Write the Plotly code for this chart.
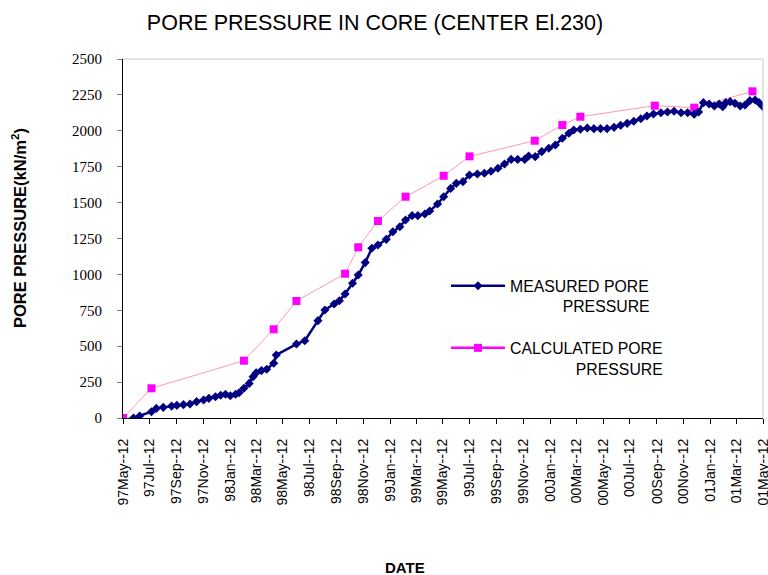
import plotly.graph_objects as go

# ---- data ----
calc_dates = ["1997-05-12", "1997-07-16", "1998-02-12", "1998-04-21", "1998-06-12",
              "1998-10-01", "1998-10-31", "1998-12-15", "1999-02-16", "1999-05-14",
              "1999-07-12", "1999-12-08", "2000-02-09", "2000-03-21", "2000-09-07",
              "2000-12-06", "2001-04-18"]
calc_vals = [0, 207, 399, 618, 815, 1005, 1189, 1372, 1541, 1687, 1822, 1931, 2040,
             2098, 2175, 2161, 2275]

meas_dates = ["1997-06-05", "1997-06-19", "1997-07-16", "1997-07-27", "1997-08-12",
              "1997-08-31", "1997-09-12", "1997-09-27", "1997-10-12", "1997-10-27",
              "1997-11-12", "1997-11-24", "1997-12-09", "1997-12-21", "1998-01-01",
              "1998-01-12", "1998-01-24", "1998-02-01", "1998-02-12", "1998-02-24",
              "1998-03-05", "1998-03-12", "1998-03-24", "1998-04-05", "1998-04-21",
              "1998-04-27", "1998-06-12", "1998-07-01", "1998-07-31", "1998-08-16",
              "1998-09-06", "1998-09-18", "1998-10-01", "1998-10-18", "1998-10-31",
              "1998-11-16", "1998-12-01", "1998-12-15", "1999-01-03", "1999-01-18",
              "1999-02-03", "1999-02-16", "1999-03-03", "1999-03-16", "1999-04-01",
              "1999-04-12", "1999-04-30", "1999-05-14", "1999-05-30", "1999-06-12",
              "1999-06-27", "1999-07-12", "1999-07-30", "1999-08-15", "1999-08-30",
              "1999-09-15", "1999-09-30", "1999-10-15", "1999-10-30", "1999-11-15",
              "1999-11-24", "1999-12-09", "1999-12-24", "2000-01-09", "2000-01-24",
              "2000-02-09", "2000-02-24", "2000-03-06", "2000-03-21", "2000-04-06",
              "2000-04-21", "2000-05-06", "2000-05-21", "2000-06-06", "2000-06-21",
              "2000-07-06", "2000-07-21", "2000-08-06", "2000-08-20", "2000-09-04",
              "2000-09-21", "2000-10-06", "2000-10-21", "2000-11-06", "2000-11-21",
              "2000-12-06", "2000-12-16", "2000-12-27", "2001-01-09", "2001-01-21",
              "2001-02-01", "2001-02-09", "2001-02-16", "2001-02-26", "2001-03-09",
              "2001-03-21", "2001-04-01", "2001-04-12", "2001-04-24", "2001-05-03",
              "2001-05-12"]
meas_vals = [0, 14, 44, 67, 74, 83, 88, 93, 97, 114,
             125, 137, 148, 158, 165, 155, 165, 176, 207, 241,
             288, 315, 330, 339, 381, 439, 515, 538, 678, 752,
             794, 817, 864, 938, 996, 1082, 1182, 1205, 1244, 1297,
             1332, 1379, 1409, 1409, 1421, 1441, 1490, 1541, 1599, 1634,
             1646, 1692, 1699, 1704, 1718, 1739, 1769, 1801, 1801, 1801,
             1825, 1820, 1855, 1878, 1901, 1948, 1983, 2006, 2011, 2019,
             2015, 2015, 2015, 2024, 2038, 2052, 2066, 2084, 2103, 2117,
             2126, 2131, 2136, 2126, 2126, 2115, 2131, 2196, 2187, 2173,
             2187, 2168, 2196, 2203, 2191, 2173, 2180, 2210, 2214, 2196,
             2168]

tick_dates = ["1997-05-12", "1997-07-12", "1997-09-12", "1997-11-12", "1998-01-12",
              "1998-03-12", "1998-05-12", "1998-07-12", "1998-09-12", "1998-11-12",
              "1999-01-12", "1999-03-12", "1999-05-12", "1999-07-12", "1999-09-12",
              "1999-11-12", "2000-01-12", "2000-03-12", "2000-05-12", "2000-07-12",
              "2000-09-12", "2000-11-12", "2001-01-12", "2001-03-12", "2001-05-12"]
tick_labels = ["97May--12", "97Jul--12", "97Sep--12", "97Nov--12", "98Jan--12",
               "98Mar--12", "98May--12", "98Jul--12", "98Sep--12", "98Nov--12",
               "99Jan--12", "99Mar--12", "99May--12", "99Jul--12", "99Sep--12",
               "99Nov--12", "00Jan--12", "00Mar--12", "00May--12", "00Jul--12",
               "00Sep--12", "00Nov--12", "01Jan--12", "01Mar--12", "01May--12"]
y_ticks = [0, 250, 500, 750, 1000, 1250, 1500, 1750, 2000, 2250, 2500]

NB = "&nbsp;"
FONT = "Arial, Liberation Sans"
fig = go.Figure()
# plotted series
fig.add_trace(go.Scatter(
    x=calc_dates, y=calc_vals, mode="lines+markers", showlegend=False,
    name="CALCULATED PORE PRESSURE",
    line=dict(color="#FF99B0", width=1),
    marker=dict(symbol="square", size=8, color="#FF00FF")))
fig.add_trace(go.Scatter(
    x=meas_dates, y=meas_vals, mode="lines+markers",
    name="MEASURED PORE<br>" + NB * 12 + "PRESSURE",
    line=dict(color="#000080", width=2.5),
    marker=dict(symbol="diamond", size=7, color="#000080"),
    legendgroup="m", legendrank=1))
# legend entry for the calculated series (as styled in the legend box)
fig.add_trace(go.Scatter(
    x=[None], y=[None], mode="lines+markers",
    name="CALCULATED PORE<br>" + NB * 15 + "PRESSURE",
    line=dict(color="#FF00FF", width=2.5),
    marker=dict(symbol="square", size=8, color="#FF00FF"),
    legendgroup="c", legendrank=2))

fig.update_layout(
    width=768, height=575,
    margin=dict(l=123, r=5, t=59, b=157, autoexpand=False),
    paper_bgcolor="white", plot_bgcolor="white",
    font=dict(family=FONT, color="black"),
    title=dict(text="PORE PRESSURE IN CORE (CENTER El.230)", x=375 / 768, xanchor="center",
               y=1 - 22 / 575, yanchor="middle",
               font=dict(family=FONT, size=21.5, color="black")),
    showlegend=True,
    legend=dict(x=323 / 640, y=149 / 359, xanchor="left", yanchor="top",
                bgcolor="rgba(0,0,0,0)", font=dict(size=15.8, family=FONT),
                valign="top", tracegroupgap=18, itemwidth=54, traceorder="grouped"),
    xaxis=dict(type="date", range=["1997-05-12", "2001-05-12"],
               tickmode="array", tickvals=tick_dates, ticktext=tick_labels,
               tickangle=-90, ticks="outside", ticklen=5, tickcolor="black",
               showline=True, linecolor="black", linewidth=1, mirror=False,
               showgrid=False, zeroline=False, ticklabelstandoff=9,
               ticklabeloverflow="allow", automargin=False,
               tickfont=dict(family=FONT, size=14, color="black")),
    yaxis=dict(range=[0, 2500], tickmode="array", tickvals=y_ticks,
               ticks="outside", ticklen=5, tickcolor="#808080",
               showline=True, linecolor="black", linewidth=1,
               showgrid=False, zeroline=False, ticklabelstandoff=12, automargin=False,
               tickfont=dict(family="Times New Roman, Liberation Serif", size=15, color="black")),
    shapes=[dict(type="line", xref="paper", yref="paper", x0=0, x1=1, y0=1, y1=1,
                 line=dict(color="#C8C8C8", width=1)),
            dict(type="line", xref="paper", yref="paper", x0=1, x1=1, y0=0, y1=1,
                 line=dict(color="#C8C8C8", width=1))],
    annotations=[
        dict(text="<b>PORE PRESSURE(kN/m<sup>2</sup>)</b>", xref="paper", yref="paper",
             x=-104 / 640, y=190 / 359, xanchor="center", yanchor="middle",
             textangle=-90, showarrow=False,
             font=dict(family=FONT, size=16.5, color="black")),
        dict(text="<b>DATE</b>", xref="paper", yref="paper",
             x=(405 - 123) / 640, y=-149 / 359, xanchor="center", yanchor="middle",
             showarrow=False, font=dict(family=FONT, size=15, color="black")),
    ],
)

# remove the default page margin so the figure sits at the window's top-left corner
fig.write_html("out.html", config={"displayModeBar": False},
               post_script="document.body.style.margin='0';document.body.style.overflow='hidden';")
